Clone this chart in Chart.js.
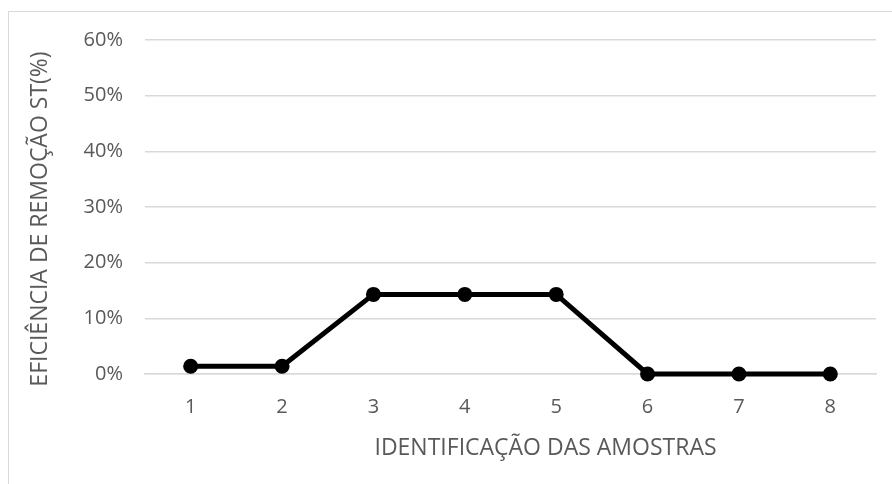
<!DOCTYPE html>
<html>
<head>
<meta charset="utf-8">
<script src="https://cdn.jsdelivr.net/npm/chart.js@4/dist/chart.umd.min.js"></script>
<style>
  html, body { margin: 0; padding: 0; background: #fff; }
  #wrap { width: 892px; height: 484px; position: relative; }
</style>
</head>
<body>
<div id="wrap"><canvas id="c" width="892" height="484"></canvas></div>
<script>
// Amostras e eficiência de remoção de sólidos totais (%)
const amostras = ['1', '2', '3', '4', '5', '6', '7', '8'];
const eficiencia = [1.4, 1.4, 14.3, 14.3, 14.3, 0, 0, 0];
const yTicks = [0, 10, 20, 30, 40, 50, 60];
const tituloX = 'IDENTIFICAÇÃO DAS AMOSTRAS';
const tituloY = 'EFICIÊNCIA DE REMOÇÃO ST(%)';

const FONT = '"Open Sans", "Noto Sans", sans-serif';
const TEXT = '#595959';
const GRID = '#d9d9d9';

// Moldura clara à esquerda e no topo + títulos dos eixos
const moldura = {
  id: 'moldura',
  beforeDraw(chart) {
    const ctx = chart.ctx;
    ctx.save();
    ctx.fillStyle = '#fff';
    ctx.fillRect(0, 0, chart.width, chart.height);
    ctx.strokeStyle = GRID;
    ctx.lineWidth = 1;
    ctx.beginPath();
    ctx.moveTo(8.5, chart.height);
    ctx.lineTo(8.5, 11.5);
    ctx.lineTo(chart.width, 11.5);
    ctx.stroke();
    ctx.restore();
  },
  afterDraw(chart) {
    const ctx = chart.ctx;
    const a = chart.chartArea;
    ctx.save();
    ctx.fillStyle = TEXT;
    ctx.font = '23px ' + FONT;
    ctx.textAlign = 'center';
    ctx.textBaseline = 'alphabetic';
    ctx.fillText(tituloX, (a.left + a.right) / 2 + 35, a.bottom + 81);
    ctx.translate(47, (a.top + a.bottom) / 2 + 12);
    ctx.rotate(-Math.PI / 2);
    ctx.fillText(tituloY, 0, 0);
    ctx.restore();
  }
};

new Chart(document.getElementById('c'), {
  type: 'line',
  data: {
    labels: amostras,
    datasets: [{
      data: eficiencia,
      borderColor: '#000',
      backgroundColor: '#000',
      borderWidth: 5,
      pointRadius: 7.5,
      pointHoverRadius: 7.5,
      pointBackgroundColor: '#000',
      pointBorderWidth: 0,
      tension: 0,
      fill: false,
      clip: false
    }]
  },
  options: {
    responsive: false,
    animation: false,
    events: [],
    layout: { padding: { top: 40, right: 16, bottom: 0, left: 0 } },
    plugins: { legend: { display: false }, tooltip: { enabled: false } },
    scales: {
      x: {
        offset: true,
        grid: { display: false, drawTicks: false },
        border: { display: true, color: GRID, width: 1.5 },
        ticks: { color: TEXT, font: { family: FONT, size: 20 }, padding: 21 },
        afterFit(s) { s.height = 110; }
      },
      y: {
        min: 0,
        max: 60,
        afterBuildTicks(s) { s.ticks = yTicks.map(v => ({ value: v })); },
        grid: { color: GRID, lineWidth: 1.5, drawTicks: false },
        border: { display: false },
        ticks: {
          color: TEXT,
          font: { family: FONT, size: 20 },
          padding: 22,
          callback: v => v + '%'
        },
        afterFit(s) { s.width = 145; }
      }
    }
  },
  plugins: [moldura]
});
</script>
</body>
</html>
